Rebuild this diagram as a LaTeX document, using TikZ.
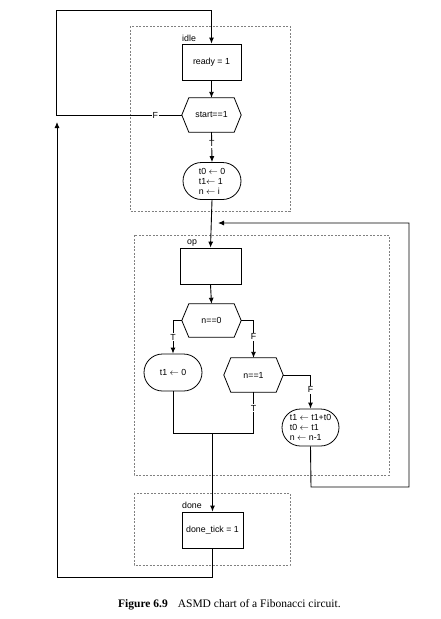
\documentclass[tikz,border=0pt]{standalone}
\usepackage{fontspec}
\setmainfont{Liberation Serif}
\newfontfamily\diagfont{Liberation Sans}
\usetikzlibrary{arrows.meta,shapes.misc}
\newcommand{\drawhex}[1]{\draw[hexside] (#1.west) -- ([xshift=7pt]#1.north west) -- ([xshift=-7pt]#1.north east) -- (#1.east) -- ([xshift=-7pt]#1.south east) -- ([xshift=7pt]#1.south west) -- cycle;}
\begin{document}
\begin{tikzpicture}[x=1pt,y=-1pt,
  every node/.style={font=\diagfont\fontsize{8.8}{10}\selectfont},
  line/.style={line width=0.9pt},
  arr/.style={line width=0.9pt,-{Latex[length=6pt,width=5pt]}},
  statebox/.style={draw,line width=0.8pt,minimum width=59pt,minimum height=36pt,inner sep=1pt},
  condbox/.style={minimum width=59pt,minimum height=34pt,inner sep=0pt},
  roundbox/.style={draw,rounded rectangle,line width=0.8pt,minimum width=60pt,minimum height=37pt,inner sep=1pt,align=left},
  region/.style={draw=gray,dash pattern=on 2pt off 1.5pt,line width=0.5pt},
  tag/.style={fill=white,inner sep=1pt},
  hexside/.style={line width=0.8pt},
  lbl/.style={anchor=base west,inner sep=0pt}
]
\useasboundingbox (0,0) rectangle (441,619);
% regions
\draw[region] (130,26) rectangle (290,211);
\draw[region] (134,235) rectangle (389,475);
\draw[region] (134,493) rectangle (290,565);
\node[lbl] (idlelbl) at (182,41) {idle};
\node[lbl] (oplbl) at (187,244) {op};
\node[lbl] (donelbl) at (182,508) {done};
% nodes
\node[statebox] (ready) at (211.5,62) {ready = 1};
\node[condbox] (start) at (211.5,115) {start==1};
\drawhex{start}
\node[roundbox] (init) at (212,181) {t0 $\leftarrow$ 0\\t1$\leftarrow$ 1\\n $\leftarrow$ i};
\node[statebox,minimum width=61pt] (blank) at (210.5,266) {};
\node[condbox,minimum height=33pt] (n0) at (211.5,320.5) {n==0};
\drawhex{n0}
\node[roundbox] (t10) at (173,372.5) {t1 $\leftarrow$ 0};
\node[condbox] (n1) at (253.5,375) {n==1};
\drawhex{n1}
\node[roundbox,minimum width=59pt] (upd) at (310.5,427.5) {t1 $\leftarrow$ t1+t0\\t0 $\leftarrow$ t1\\n $\leftarrow$ n-1};
\node[statebox,minimum width=61pt] (done) at (212.5,530) {done\_tick = 1};
% coordinates
\coordinate (fl) at (56,115);
\coordinate (ftop) at (56,10);
\coordinate (rtop) at (211.5,10);
\coordinate (ub) at (311,487);
\coordinate (ubr) at (409,487);
\coordinate (utr) at (409,223);
\coordinate (utip) at (218,223);
\coordinate (jl) at (173,433);
\coordinate (jr) at (253.5,433);
\coordinate (jm) at (212.5,433);
\coordinate (db) at (212.5,577);
\coordinate (dbl) at (57,577);
\coordinate (dtip) at (57,122);
% connectors
\draw[arr] (start.west) -- node[tag,pos=0.21]{F} (fl) -- (ftop) -- (rtop) -- (ready.north);
\draw[arr] (ready.south) -- (start.north);
\draw[arr] (start.south) -- node[tag,pos=0.39]{T} (init.north);
\draw[arr] (init.south) -- (blank.north);
\draw[arr] (upd.south) -- (ub) -- (ubr) -- (utr) -- (utip);
\draw[arr] (blank.south) -- (n0.north);
\draw[arr] (n0.west) -| node[tag,pos=0.75]{T} (t10.north);
\draw[arr] (n0.east) -| node[tag,pos=0.72]{F} (n1.north);
\draw[arr] (n1.east) -| node[tag,pos=0.72]{F} (upd.north);
\draw[line] (n1.south) -- node[tag,pos=0.39]{T} (jr);
\draw[line] (t10.south) -- (jl) -- (jr);
\draw[arr] (jm) -- (done.north);
\draw[arr] (done.south) -- (db) -- (dbl) -- (dtip);
% caption
\node[anchor=base west,inner sep=0pt,font=\rmfamily\fontsize{11.5}{14}\selectfont] (cap) at (118,607) {\textbf{Figure 6.9}\hspace{10pt}ASMD chart of a Fibonacci circuit.};
\end{tikzpicture}
\end{document}
